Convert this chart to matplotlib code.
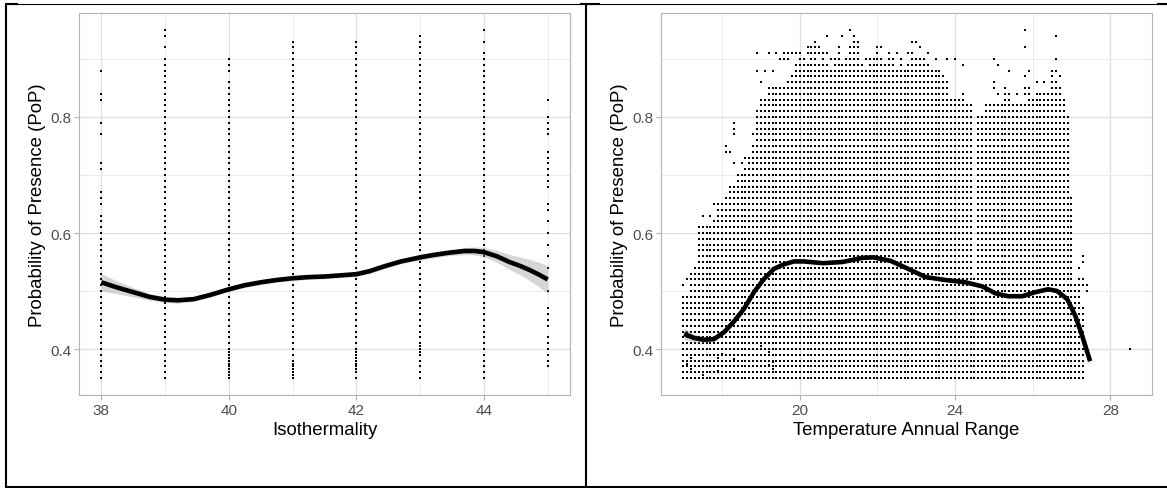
import numpy as np
import matplotlib
matplotlib.use("Agg")
import matplotlib.pyplot as plt
from matplotlib.lines import Line2D
from matplotlib.ticker import MultipleLocator

plt.rcParams["font.family"] = ["Liberation Sans", "DejaVu Sans"]

W, H = 1167, 489

# ---------------------------------------------------------------------------
# Isothermality panel: PoP values stacked on integer isothermality columns
# ---------------------------------------------------------------------------
iso_cols = [38, 39, 40, 41, 42, 43, 44]
iso_col_top = [0.63, 0.90, 0.90, 0.93, 0.93, 0.94, 0.90]
iso_col_missing = {40: [0.87]}
iso_sparse = {
    38: [0.65, 0.66, 0.67, 0.71, 0.72, 0.77, 0.79, 0.83, 0.84, 0.88],
    39: [0.92, 0.94, 0.95],
    44: [0.91, 0.93, 0.95],
    45: [0.37, 0.38, 0.39, 0.40, 0.41, 0.42, 0.44, 0.45, 0.46, 0.47,
         0.50, 0.54, 0.56, 0.58, 0.60, 0.62, 0.64, 0.65, 0.68, 0.69,
         0.70, 0.71, 0.72, 0.73, 0.74, 0.77, 0.78, 0.79, 0.80, 0.83],
}
iso_overlap = {
    40: [0.355, 0.365, 0.375, 0.385, 0.395],
    41: [0.355, 0.365, 0.375],
    42: [0.365, 0.375, 0.385, 0.395],
    43: [0.395, 0.405],
}

iso_fit_x = [38.0, 38.25, 38.5, 38.75, 39.0, 39.2, 39.45, 39.7, 40.0, 40.25,
             40.5, 40.75, 41.0, 41.25, 41.5, 41.75, 42.0, 42.2, 42.45, 42.7,
             43.0, 43.2, 43.45, 43.7, 43.85, 44.0, 44.2, 44.4, 44.55, 44.7,
             44.85, 45.0]
iso_fit_y = [0.515, 0.506, 0.498, 0.490, 0.485, 0.484, 0.486, 0.493, 0.503,
             0.510, 0.515, 0.519, 0.522, 0.524, 0.525, 0.527, 0.529, 0.534,
             0.543, 0.551, 0.558, 0.562, 0.566, 0.569, 0.569, 0.567, 0.560,
             0.550, 0.544, 0.537, 0.529, 0.520]
iso_fit_se = [0.015, 0.011, 0.008, 0.006, 0.005, 0.005, 0.004, 0.004, 0.004,
              0.004, 0.004, 0.004, 0.004, 0.004, 0.004, 0.004, 0.004, 0.004,
              0.004, 0.004, 0.005, 0.005, 0.005, 0.006, 0.007, 0.008, 0.010,
              0.013, 0.015, 0.018, 0.021, 0.024]

# ---------------------------------------------------------------------------
# Temperature annual range panel: one column of PoP values every 0.1 degree
# ---------------------------------------------------------------------------
tar_first = 17.0
tar_col_top = [
    0.49, 0.49, 0.53, 0.54, 0.61, 0.61, 0.61, 0.61, 0.62, 0.65,   # 17.0-17.9
    0.65, 0.66, 0.68, 0.68, 0.70, 0.70, 0.71, 0.73, 0.75, 0.81,   # 18.0-18.9
    0.83, 0.83, 0.85, 0.85, 0.85, 0.85, 0.85, 0.86, 0.87, 0.89,   # 19.0-19.9
    0.89, 0.89, 0.89, 0.89, 0.89, 0.89, 0.89, 0.89, 0.88, 0.89,   # 20.0-20.9
    0.89, 0.89, 0.89, 0.89, 0.89, 0.89, 0.89, 0.88, 0.89, 0.89,   # 21.0-21.9
    0.89, 0.89, 0.89, 0.89, 0.89, 0.88, 0.89, 0.88, 0.89, 0.89,   # 22.0-22.9
    0.89, 0.89, 0.89, 0.89, 0.88, 0.88, 0.88, 0.87, 0.86, 0.83,   # 23.0-23.9
    0.83, 0.83, 0.83, 0.82, 0.82, 0.52, 0.80, 0.80, 0.82, 0.82,   # 24.0-24.9
    0.82, 0.82, 0.82, 0.83, 0.83, 0.82, 0.82, 0.82, 0.82, 0.85,   # 25.0-25.9
    0.83, 0.84, 0.84, 0.84, 0.84, 0.85, 0.85, 0.84, 0.83, 0.80,   # 26.0-26.9
    0.66, 0.51, 0.51, 0.47,                                       # 27.0-27.3
]

tar_sparse_x = [
    17.0, 17.1, 17.5, 17.7, 17.8, 18.1, 18.1, 18.2, 18.3, 18.3, 18.3, 18.3,
    18.5, 18.6, 18.8, 18.9, 18.9, 19.0, 19.0, 19.1, 19.2, 19.3, 19.4, 19.5,
    # 0.90 row
    19.6, 19.7, 20.0, 20.1, 20.3, 20.4, 20.6, 20.8, 20.9, 21.0, 21.2, 21.3,
    21.4, 21.5, 21.7, 21.8, 21.9, 22.0, 22.1, 22.3, 22.4, 22.6, 22.9, 23.0,
    23.1, 23.2, 23.5, 23.8, 24.0, 25.0, 26.6,
    # 0.91 row
    19.6, 19.7, 19.8, 19.9, 20.0, 20.2, 20.3, 20.4, 20.5, 20.6, 20.7, 21.0,
    21.3, 21.4, 21.5, 22.0, 22.3, 22.5, 22.8, 22.9, 23.3,
    # 0.92 - 0.95
    20.2, 20.3, 20.4, 20.5, 21.0, 21.3, 21.4, 21.5, 22.0, 22.1, 23.1, 25.8,
    20.4, 21.4, 21.5, 22.9, 23.0,
    20.7, 21.1, 21.4, 26.6,
    21.3, 25.8,
    # ragged top of the warm block
    24.2, 25.1, 25.4, 25.9, 26.5, 26.6, 25.8, 26.5, 26.7, 25.0, 26.1, 26.3,
    26.5, 26.6, 23.8, 25.0, 25.3, 25.8, 26.5, 26.6, 26.7, 23.8, 24.2, 25.1,
    25.3, 25.4, 25.6, 25.8,
    # right edge
    27.3, 27.3, 27.2, 27.3, 27.2, 27.4, 27.3, 27.4,
    # isolated point
    28.5,
]
tar_sparse_y = [
    0.51, 0.52, 0.63, 0.63, 0.65, 0.74, 0.75, 0.74, 0.72, 0.77, 0.78, 0.79,
    0.72, 0.73, 0.77, 0.88, 0.91, 0.79, 0.86, 0.88, 0.91, 0.88, 0.91, 0.90,
    0.90, 0.90, 0.90, 0.90, 0.90, 0.90, 0.90, 0.90, 0.90, 0.90, 0.90, 0.90,
    0.90, 0.90, 0.90, 0.90, 0.90, 0.90, 0.90, 0.90, 0.90, 0.90, 0.90, 0.90,
    0.90, 0.90, 0.90, 0.90, 0.90, 0.90, 0.90,
    0.91, 0.91, 0.91, 0.91, 0.91, 0.91, 0.91, 0.91, 0.91, 0.91, 0.91, 0.91,
    0.91, 0.91, 0.91, 0.91, 0.91, 0.91, 0.91, 0.91, 0.91,
    0.92, 0.92, 0.92, 0.92, 0.92, 0.92, 0.92, 0.92, 0.92, 0.92, 0.92, 0.92,
    0.93, 0.93, 0.93, 0.93, 0.93,
    0.94, 0.94, 0.94, 0.94,
    0.95, 0.95,
    0.89, 0.89, 0.88, 0.88, 0.88, 0.88, 0.87, 0.87, 0.87, 0.86, 0.86, 0.86,
    0.86, 0.86, 0.85, 0.85, 0.85, 0.85, 0.85, 0.85, 0.85, 0.84, 0.84, 0.84,
    0.84, 0.84, 0.84, 0.84,
    0.56, 0.55, 0.54, 0.52, 0.52, 0.51, 0.51, 0.50,
    0.40,
]
tar_overlap_x = [17.1, 17.2, 17.2, 17.5, 17.9, 17.9, 18.0, 18.3, 19.2, 19.2,
                 19.3, 19.3, 19.0]
tar_overlap_y = [0.375, 0.365, 0.385, 0.355, 0.362, 0.385, 0.392, 0.383,
                 0.395, 0.372, 0.365, 0.378, 0.405]

tar_fit_x = [17.02, 17.28, 17.53, 17.79, 18.05, 18.30, 18.56, 18.82, 19.07,
             19.33, 19.59, 19.85, 20.10, 20.60, 21.10, 21.60, 21.90, 22.34,
             22.80, 23.24, 23.75, 24.27, 24.70, 25.04, 25.37, 25.73, 26.07,
             26.40, 26.63, 26.89, 27.10, 27.28, 27.48]
tar_fit_y = [0.426, 0.419, 0.416, 0.417, 0.429, 0.447, 0.469, 0.498, 0.520,
             0.538, 0.546, 0.551, 0.551, 0.548, 0.550, 0.557, 0.558, 0.552,
             0.538, 0.524, 0.519, 0.515, 0.508, 0.496, 0.491, 0.491, 0.498,
             0.503, 0.500, 0.486, 0.457, 0.422, 0.379]
tar_fit_se = [0.010, 0.007, 0.005, 0.004, 0.003, 0.003, 0.002, 0.002, 0.002,
              0.002, 0.002, 0.002, 0.002, 0.002, 0.002, 0.002, 0.002, 0.002,
              0.002, 0.002, 0.002, 0.002, 0.002, 0.002, 0.002, 0.002, 0.002,
              0.003, 0.003, 0.004, 0.005, 0.006, 0.008]


def column_points(x, top, missing=()):
    levels = np.arange(35, int(round(top * 100)) + 1) / 100.0
    levels = [v for v in levels if not any(abs(v - m) < 1e-6 for m in missing)]
    return [x] * len(levels), levels


def style_axes(ax):
    ax.set_facecolor("white")
    for s in ax.spines.values():
        s.set_color("#B3B3B3")
        s.set_linewidth(0.8)
    ax.grid(which="major", color="#DEDEDE", linewidth=0.9)
    ax.grid(which="minor", color="#EBEBEB", linewidth=0.7)
    ax.set_axisbelow(True)
    ax.tick_params(which="major", length=3.6, width=0.8, color="#B3B3B3",
                   labelsize=11, labelcolor="#4D4D4D", pad=2)
    ax.tick_params(which="minor", length=0)
    ax.yaxis.set_major_locator(MultipleLocator(0.2))
    ax.yaxis.set_minor_locator(MultipleLocator(0.1))
    ax.set_ylim(0.3207, 0.9793)
    ax.set_ylabel("Probability of Presence (PoP)", fontsize=13.4, labelpad=3)


fig = plt.figure(figsize=(W / 100, H / 100), dpi=100)
fig.patch.set_facecolor("white")

ax_l = fig.add_axes([79 / W, 1 - 396 / H, 491 / W, 382 / H])
ax_r = fig.add_axes([661 / W, 1 - 396 / H, 491 / W, 382 / H])

dot_kw = dict(s=2.8, marker="s", c="black", linewidths=0, zorder=2)

# --- left panel ---
px, py = [], []
for x, top in zip(iso_cols, iso_col_top):
    cx, cy = column_points(x, top, iso_col_missing.get(x, ()))
    px += cx
    py += cy
for x, vals in iso_sparse.items():
    px += [x] * len(vals)
    py += vals
for x, vals in iso_overlap.items():
    px += [x] * len(vals)
    py += vals
ax_l.scatter(px, py, **dot_kw)

lo = np.array(iso_fit_y) - np.array(iso_fit_se)
hi = np.array(iso_fit_y) + np.array(iso_fit_se)
ax_l.fill_between(iso_fit_x, lo, hi, color="#999999", alpha=0.4,
                  linewidth=0, zorder=3)
ax_l.plot(iso_fit_x, iso_fit_y, color="black", linewidth=3.3, zorder=4,
          solid_capstyle="butt", solid_joinstyle="round")

style_axes(ax_l)
ax_l.set_xlim(37.65, 45.35)
ax_l.xaxis.set_major_locator(MultipleLocator(2))
ax_l.xaxis.set_minor_locator(MultipleLocator(1))
ax_l.set_xlabel("Isothermality", fontsize=13.4, labelpad=3)

# --- right panel ---
px, py = [], []
for i, top in enumerate(tar_col_top):
    x = round(tar_first + 0.1 * i, 1)
    cx, cy = column_points(x, top)
    px += cx
    py += cy
px += tar_sparse_x + tar_overlap_x
py += tar_sparse_y + tar_overlap_y
ax_r.scatter(px, py, **dot_kw)

lo = np.array(tar_fit_y) - np.array(tar_fit_se)
hi = np.array(tar_fit_y) + np.array(tar_fit_se)
ax_r.fill_between(tar_fit_x, lo, hi, color="#999999", alpha=0.4,
                  linewidth=0, zorder=3)
ax_r.plot(tar_fit_x, tar_fit_y, color="black", linewidth=3.3, zorder=4,
          solid_capstyle="butt", solid_joinstyle="round")

style_axes(ax_r)
ax_r.set_xlim(16.425, 29.075)
ax_r.xaxis.set_major_locator(MultipleLocator(4))
ax_r.xaxis.set_minor_locator(MultipleLocator(2))
ax_r.set_xlabel("Temperature Annual Range", fontsize=13.4, labelpad=3)

# --- surrounding table frame ---
def frame_line(x0, y0, x1, y1, w):
    fig.add_artist(Line2D([x0 / W, x1 / W], [1 - y0 / H, 1 - y1 / H],
                          transform=fig.transFigure, color="black",
                          linewidth=w, solid_capstyle="butt"))

frame_line(5, 4.5, W, 4.5, 0.8)
frame_line(6, 4, 6, 488, 1.5)
frame_line(586, 4, 586, 488, 1.5)
frame_line(5, 487.5, W, 487.5, 1.5)
frame_line(5, 5, 18, 5, 1.5)
frame_line(580, 5, 600, 5, 1.5)
frame_line(1157, 5, W, 5, 1.5)

fig.savefig("out.png", dpi=100, facecolor="white")
